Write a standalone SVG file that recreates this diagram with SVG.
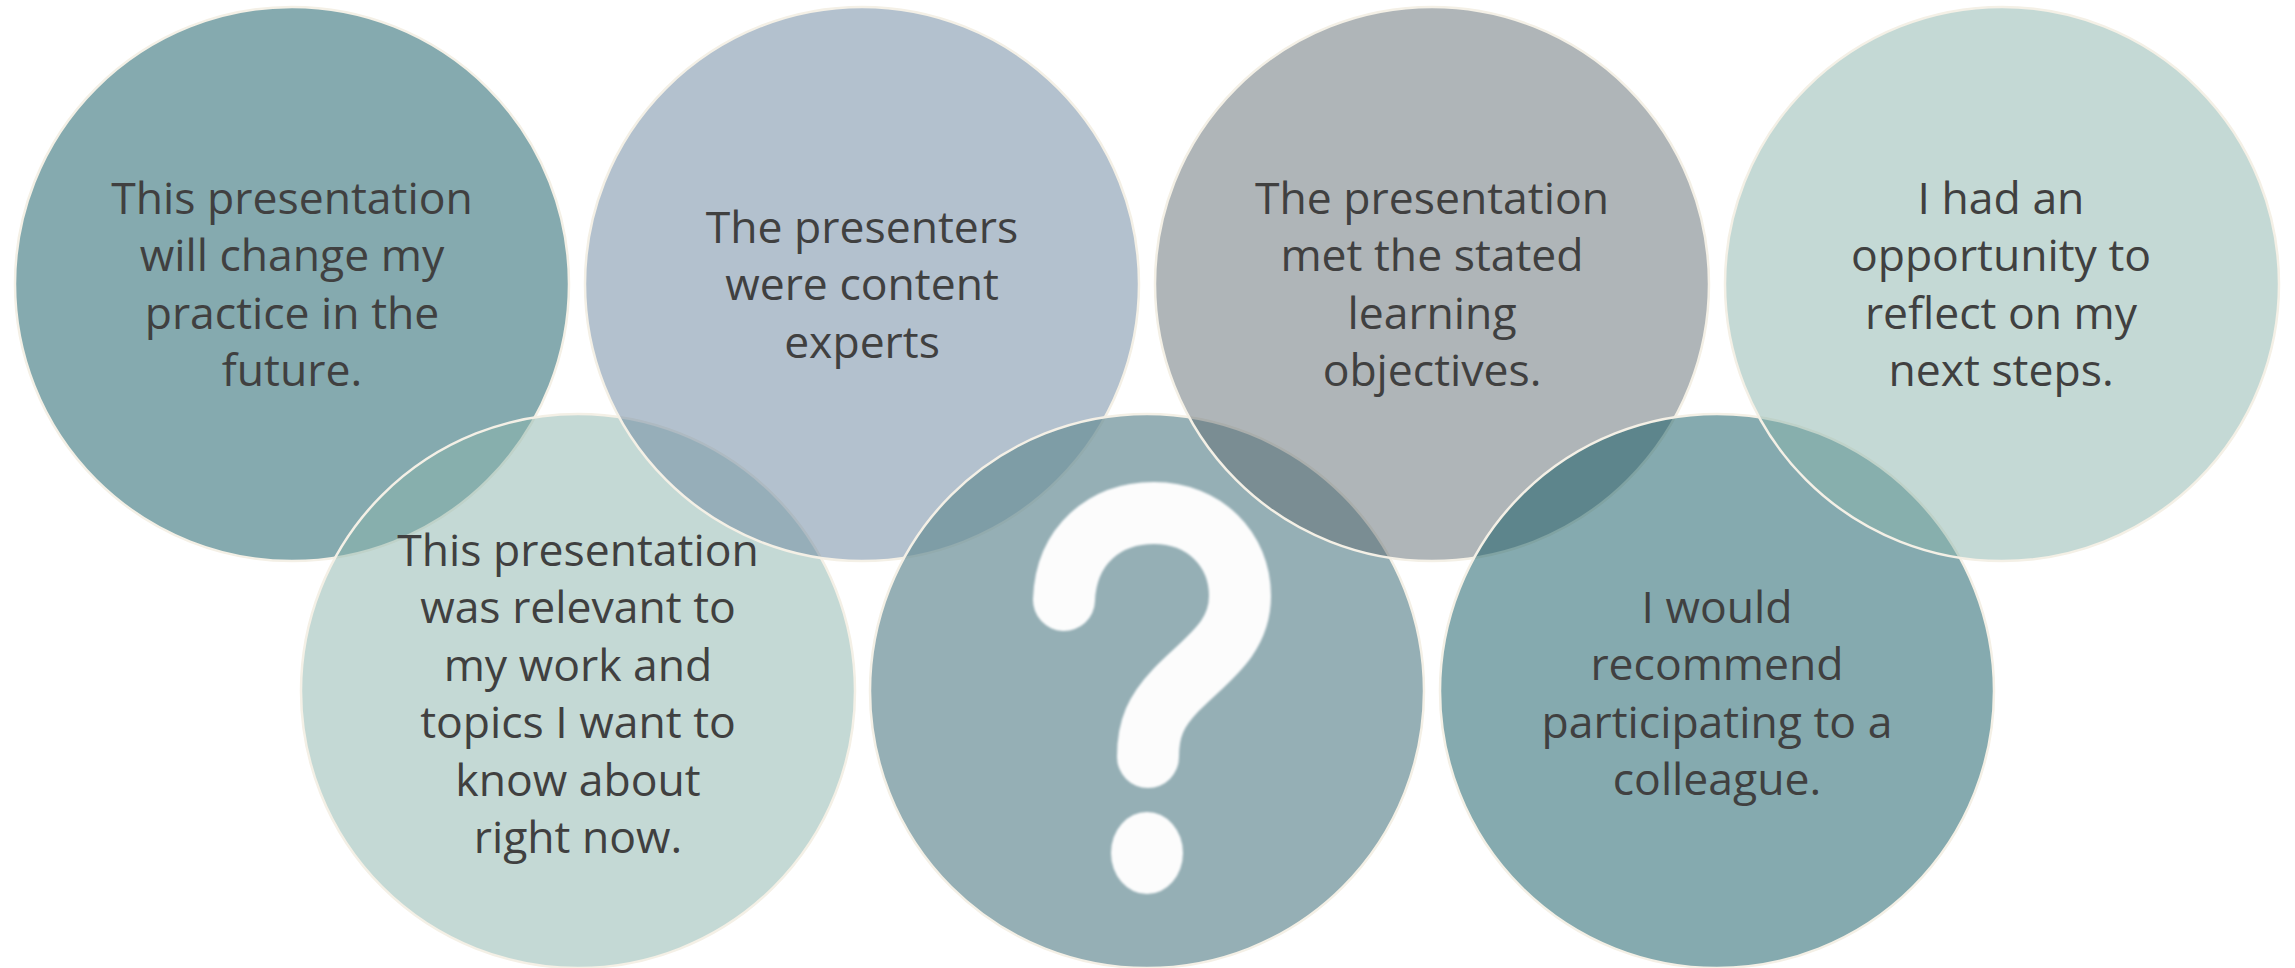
<svg xmlns="http://www.w3.org/2000/svg" width="2295" height="968" viewBox="0 0 2295 968">
<defs>
<style>
.c{stroke:#F4F0E6;stroke-width:2.5}
.t{font-family:"Open Sans","Noto Sans","DejaVu Sans",sans-serif;font-size:44.5px;fill:#404040;text-anchor:middle}
.q{fill:none;stroke:#FCFCFC;stroke-width:62;stroke-linecap:round;stroke-linejoin:round}
</style>
<filter id="soft" filterUnits="userSpaceOnUse" x="980" y="440" width="340" height="500"><feGaussianBlur stdDeviation="1.2"/></filter>
</defs>
<rect width="2295" height="968" fill="#FFFFFF"/>
<g id="node1">
<circle class="c" cx="292" cy="284" r="277" fill="#85AAAF"/>
<text class="t"><tspan x="292" y="213.5">This presentation</tspan><tspan x="292" y="271">will change my</tspan><tspan x="292" y="328.5">practice in the</tspan><tspan x="292" y="386">future.</tspan></text>
</g>
<g id="node5">
<circle class="c" cx="578" cy="691" r="277" fill="#89B3AB" fill-opacity="0.5"/>
<text class="t"><tspan x="578" y="566">This presentation</tspan><tspan x="578" y="623.4">was relevant to</tspan><tspan x="578" y="680.8">my work and</tspan><tspan x="578" y="738.2">topics I want to</tspan><tspan x="578" y="795.6">know about</tspan><tspan x="578" y="853">right now.</tspan></text>
</g>
<g id="node2">
<circle class="c" cx="862" cy="284" r="277" fill="#67839D" fill-opacity="0.5"/>
<text class="t"><tspan x="862" y="242.5">The presenters</tspan><tspan x="862" y="300">were content</tspan><tspan x="862" y="357.5">experts</tspan></text>
</g>
<g id="node6">
<circle class="c" cx="1147" cy="691" r="277" fill="#688D95" fill-opacity="0.7"/>
<g filter="url(#soft)">
<path class="q" d="M1064 600 C1066 545 1105 513 1154 513 C1205 513 1240 550 1240 596 C1240 640 1205 660 1176 690 C1156 711 1148 728 1148 757"/>
<ellipse cx="1147" cy="853" rx="36" ry="41" fill="#FCFCFC"/>
</g>
</g>
<g id="node3">
<circle class="c" cx="1432" cy="284" r="277" fill="#5F6B71" fill-opacity="0.5"/>
<text class="t"><tspan x="1432" y="213.5">The presentation</tspan><tspan x="1432" y="271">met the stated</tspan><tspan x="1432" y="328.5">learning</tspan><tspan x="1432" y="386">objectives.</tspan></text>
</g>
<g id="node7">
<circle class="c" cx="1717" cy="691" r="277" fill="#0B555F" fill-opacity="0.5"/>
<text class="t"><tspan x="1717" y="622.8">I would</tspan><tspan x="1717" y="680.2">recommend</tspan><tspan x="1717" y="737.6">participating to a</tspan><tspan x="1717" y="795">colleague.</tspan></text>
</g>
<g id="node4">
<circle class="c" cx="2002" cy="284" r="277" fill="#89B3AB" fill-opacity="0.5"/>
<text class="t"><tspan x="2001" y="213.5">I had an</tspan><tspan x="2001" y="271">opportunity to</tspan><tspan x="2001" y="328.5">reflect on my</tspan><tspan x="2001" y="386">next steps.</tspan></text>
</g>
</svg>
